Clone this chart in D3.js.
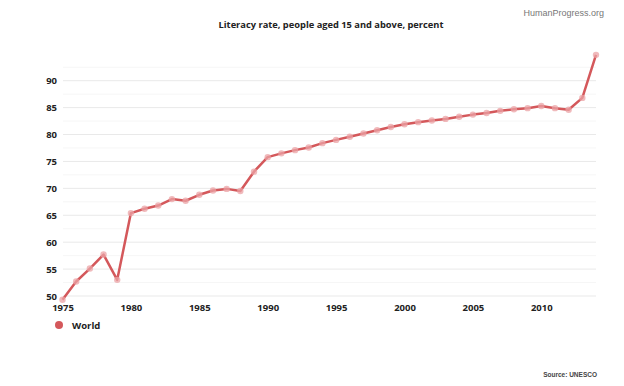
<!DOCTYPE html>
<html><head><meta charset="utf-8">
<script src="https://cdn.jsdelivr.net/npm/d3@7"></script>
<style>
html,body{margin:0;padding:0;background:#fff;}
svg{display:block;font-family:"Open Sans",sans-serif;}
</style></head>
<body>
<svg id="c" width="624" height="386"></svg>
<script>
const years = [1975,1976,1977,1978,1979,1980,1981,1982,1983,1984,1985,1986,1987,1988,1989,1990,1991,1992,1993,1994,1995,1996,1997,1998,1999,2000,2001,2002,2003,2004,2005,2006,2007,2008,2009,2010,2011,2012,2013,2014];
const world = [49.3,52.7,55.1,57.7,53.0,65.4,66.2,66.8,68.0,67.7,68.8,69.6,69.9,69.5,73.1,75.8,76.5,77.1,77.6,78.4,79.0,79.6,80.2,80.8,81.4,81.9,82.3,82.6,82.9,83.3,83.7,84.0,84.4,84.7,84.9,85.3,84.9,84.6,86.8,94.8];
const yTicks = [50,55,60,65,70,75,80,85,90];
const yMinor = [52.5,57.5,62.5,67.5,72.5,77.5,82.5,87.5,92.5];
const xTicks = [1975,1980,1985,1990,1995,2000,2005,2010];
const seriesName = "World";
const title = "Literacy rate, people aged 15 and above, percent";

const svg = d3.select("#c");
const x = d3.scaleLinear().domain([1975,2014]).range([62.5,596]);
const y = d3.scaleLinear().domain([50,90]).range([296,80.7]);

// minor grid
svg.append("g").selectAll("line").data(yMinor).join("line")
  .attr("x1",63).attr("x2",596)
  .attr("y1",d=>y(d)).attr("y2",d=>y(d))
  .attr("stroke","#f6f6f6").attr("stroke-width",1);
// major grid
svg.append("g").selectAll("line").data(yTicks).join("line")
  .attr("x1",63).attr("x2",596)
  .attr("y1",d=>y(d)).attr("y2",d=>y(d))
  .attr("stroke","#e9e9e9").attr("stroke-width",1);

// y axis
const yAxis = d3.axisLeft(y).tickValues(yTicks).tickSize(0).tickPadding(0).tickFormat(d3.format("d"));
const gy = svg.append("g").attr("transform","translate(57,0)").call(yAxis);
gy.select(".domain").remove();
gy.selectAll("text").attr("font-size","9.5px").attr("font-weight","bold").attr("fill","#222").attr("font-family","Open Sans");

// x axis
const xAxis = d3.axisBottom(x).tickValues(xTicks).tickSize(0).tickPadding(0).tickFormat(d3.format("d"));
const gx = svg.append("g").attr("transform","translate(0,304)").call(xAxis);
gx.select(".domain").remove();
gx.selectAll("text").attr("font-size","9.5px").attr("font-weight","bold").attr("fill","#222").attr("font-family","Open Sans");

// line
const data = years.map((yr,i)=>({yr, v: world[i]}));
svg.append("path").datum(data)
  .attr("fill","none").attr("stroke","#d4585b").attr("stroke-width",2.5)
  .attr("stroke-linejoin","round")
  .attr("d", d3.line().x(d=>x(d.yr)).y(d=>y(d.v)));
svg.append("g").selectAll("circle").data(data).join("circle")
  .attr("cx",d=>x(d.yr)).attr("cy",d=>y(d.v)).attr("r",3.2)
  .attr("fill","#eba3a5").attr("fill-opacity",0.75);

// title
svg.append("text").attr("x",331).attr("y",28).attr("text-anchor","middle")
  .attr("font-size","9.3px").attr("font-weight","bold").attr("fill","#222").text(title);
svg.append("text").attr("x",604).attr("y",16).attr("text-anchor","end")
  .attr("font-family","Liberation Sans, Arial, sans-serif")
  .attr("font-size","9px").attr("fill","#777").text("HumanProgress.org");

// legend
svg.append("circle").attr("cx",59).attr("cy",325).attr("r",4).attr("fill","#d4585b");
svg.append("text").attr("x",72).attr("y",329).attr("font-size","9.5px").attr("font-weight","bold")
  .attr("fill","#222").text(seriesName);

// source
svg.append("text").attr("x",597).attr("y",377).attr("text-anchor","end")
  .attr("font-family","Liberation Sans, Arial, sans-serif")
  .attr("font-size","6.5px").attr("font-weight","bold").attr("fill","#444").text("Source: UNESCO");
</script>
</body></html>
